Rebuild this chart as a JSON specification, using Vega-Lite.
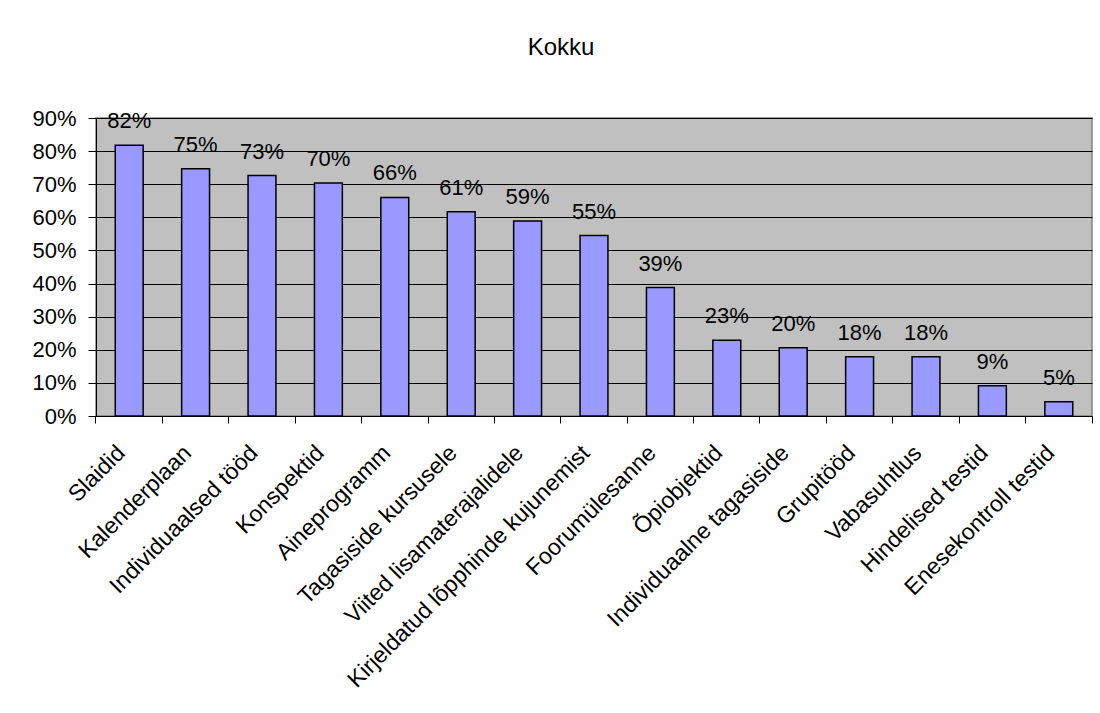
{
  "$schema": "https://vega.github.io/schema/vega-lite/v6.json",
  "autosize": "none",
  "width": 996,
  "height": 298,
  "padding": {"left": 96, "top": 118, "right": 8, "bottom": 297},
  "background": "white",
  "title": {
    "text": "Kokku",
    "font": "Liberation Sans",
    "fontSize": 24,
    "fontWeight": "normal",
    "color": "black",
    "anchor": "middle",
    "baseline": "alphabetic",
    "offset": 28,
    "dx": -33
  },
  "data": {
    "values": [
      {"kategooria": "Slaidid", "osakaal": 0.818, "silt": "82%"},
      {"kategooria": "Kalenderplaan", "osakaal": 0.747, "silt": "75%"},
      {"kategooria": "Individuaalsed tööd", "osakaal": 0.726, "silt": "73%"},
      {"kategooria": "Konspektid", "osakaal": 0.704, "silt": "70%"},
      {"kategooria": "Aineprogramm", "osakaal": 0.660, "silt": "66%"},
      {"kategooria": "Tagasiside kursusele", "osakaal": 0.617, "silt": "61%"},
      {"kategooria": "Viited lisamaterajalidele", "osakaal": 0.589, "silt": "59%"},
      {"kategooria": "Kirjeldatud lõpphinde kujunemist", "osakaal": 0.545, "silt": "55%"},
      {"kategooria": "Foorumülesanne", "osakaal": 0.388, "silt": "39%"},
      {"kategooria": "Õpiobjektid", "osakaal": 0.229, "silt": "23%"},
      {"kategooria": "Individuaalne tagasiside", "osakaal": 0.206, "silt": "20%"},
      {"kategooria": "Grupitööd", "osakaal": 0.179, "silt": "18%"},
      {"kategooria": "Vabasuhtlus", "osakaal": 0.179, "silt": "18%"},
      {"kategooria": "Hindelised testid", "osakaal": 0.091, "silt": "9%"},
      {"kategooria": "Enesekontroll testid", "osakaal": 0.043, "silt": "5%"}
    ]
  },
  "encoding": {
    "x": {
      "field": "kategooria",
      "type": "nominal",
      "sort": null,
      "scale": {"paddingInner": 0, "paddingOuter": 0},
      "axis": {
        "title": null,
        "labelAngle": -45,
        "labelAlign": "right",
        "labelBaseline": "alphabetic",
        "labelFont": "Liberation Sans",
        "labelFontSize": 23,
        "labelColor": "black",
        "labelPadding": 31,
        "labelOffset": -3,
        "labelLimit": 500,
        "labelOverlap": false,
        "bandPosition": 1,
        "tickExtra": true,
        "tickSize": 7,
        "tickColor": "black",
        "domainColor": "black",
        "grid": false
      }
    },
    "y": {
      "field": "osakaal",
      "type": "quantitative",
      "scale": {"domain": [0, 0.9], "nice": false},
      "axis": {
        "title": null,
        "values": [0, 0.1, 0.2, 0.3, 0.4, 0.5, 0.6, 0.7, 0.8, 0.9],
        "format": ".0%",
        "labelFont": "Liberation Sans",
        "labelFontSize": 22,
        "labelColor": "black",
        "labelPadding": 12,
        "tickSize": 8,
        "tickColor": "black",
        "domainColor": "black",
        "grid": true,
        "gridColor": "black",
        "gridWidth": 1,
        "gridOpacity": 1
      }
    }
  },
  "layer": [
    {
      "mark": {"type": "bar", "width": {"band": 0.42}, "fill": "#9999FF", "stroke": "black", "strokeWidth": 1.5}
    },
    {
      "mark": {"type": "text", "baseline": "alphabetic", "dy": -17, "font": "Liberation Sans", "fontSize": 22, "color": "black"},
      "encoding": {"text": {"field": "silt"}}
    }
  ],
  "config": {
    "view": {"fill": "#C0C0C0", "stroke": "#808080", "strokeWidth": 1.5}
  }
}
